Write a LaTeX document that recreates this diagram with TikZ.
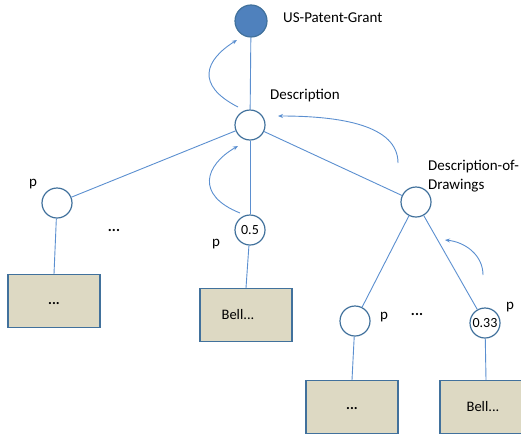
\documentclass[tikz,border=0pt]{standalone}
\usepackage{fontspec}
\setmainfont{Carlito}
\usetikzlibrary{arrows.meta}
\definecolor{ring}{HTML}{41719C}
\definecolor{link}{HTML}{5B8FD0}
\definecolor{rootfill}{HTML}{4F81BD}
\definecolor{leaftan}{HTML}{DDD9C3}
\tikzset{
  vertex/.style={circle, draw=ring, line width=1.2pt, fill=white,
    minimum size=30pt, inner sep=0pt, font=\fontsize{14}{16}\selectfont},
  leaf/.style={rectangle, draw=ring, line width=1.2pt, fill=leaftan,
    minimum width=92pt, minimum height=53pt, font=\fontsize{14.5}{17}\selectfont},
  tag/.style={font=\fontsize{15}{19}\selectfont, inner sep=0pt},
  hop/.style={draw=link, line width=0.9pt, -{Stealth[length=5pt,width=4pt]}},
}
\begin{document}
\begin{tikzpicture}[x=1pt, y=-1pt]
  \useasboundingbox (0,0) rectangle (521,434);
  \draw
    (251,21) node[vertex, fill=rootfill, minimum size=32pt] (grant){}
    (250,125) node[vertex] (desc){}
    (57,203) node[vertex] (p1){}
    (250,230) node[vertex] (p2){0.5}
    (416,202) node[vertex] (dod){}
    (355,321) node[vertex] (p3){}
    (485,323) node[vertex] (p4){0.33}
    (54,301) node[leaf] (b1){\raisebox{-7pt}{\textbf{...}}}
    (246,315) node[leaf] (b2){\hspace*{-16pt}Bell...}
    (352,407) node[leaf] (b3){\raisebox{-6pt}{\textbf{...}}}
    (486,407) node[leaf] (b4){\hspace*{-6pt}Bell...};
  % labels
  \node[tag, anchor=west] (tgrant) at (283,18) {US-Patent-Grant};
  \node[tag, anchor=west] (tdesc) at (270,96) {Description};
  \node[tag, anchor=west, align=left] (tdod) at (428,176) {Description-of-\\Drawings};
  \node[tag] (tp1) at (33,184) {p};
  \node[tag] (tp2) at (216,244) {p};
  \node[tag] (tp3) at (384,317) {p};
  \node[tag] (tp4) at (510,307) {p};
  \node[tag] (dots1) at (114,230) {\textbf{...}};
  \node[tag] (dots2) at (417,314) {\textbf{...}};
  \begin{scope}[draw=link, line width=0.9pt]
    \draw (grant) to (desc);
    \draw (desc) to (p1);
    \draw (desc) to (p2);
    \draw (desc) to (dod);
    \draw (dod) to (p3);
    \draw (dod) to (p4);
    \draw (p1) to (b1.north);
    \draw (p2) to (b2.north);
    \draw (p3) to (b3.north);
    \draw (p4) to (b4.north);
  \end{scope}
  % upward passes
  \coordinate (a1) at (238,107);
  \coordinate (a2) at (237,40);
  \coordinate (c1) at (240,213);
  \coordinate (c2) at (238,146);
  \coordinate (d1) at (398,163);
  \coordinate (d2) at (278,116);
  \coordinate (e1) at (483,275);
  \coordinate (e2) at (445,240);
  \draw[hop] (a1) .. controls (195,85) and (205,60) .. (a2);
  \draw[hop] (c1) .. controls (195,195) and (205,165) .. (c2);
  \draw[hop] (d1) .. controls (398,125) and (340,116) .. (d2);
  \draw[hop] (e1) .. controls (483,255) and (465,242) .. (e2);
\end{tikzpicture}
\end{document}
